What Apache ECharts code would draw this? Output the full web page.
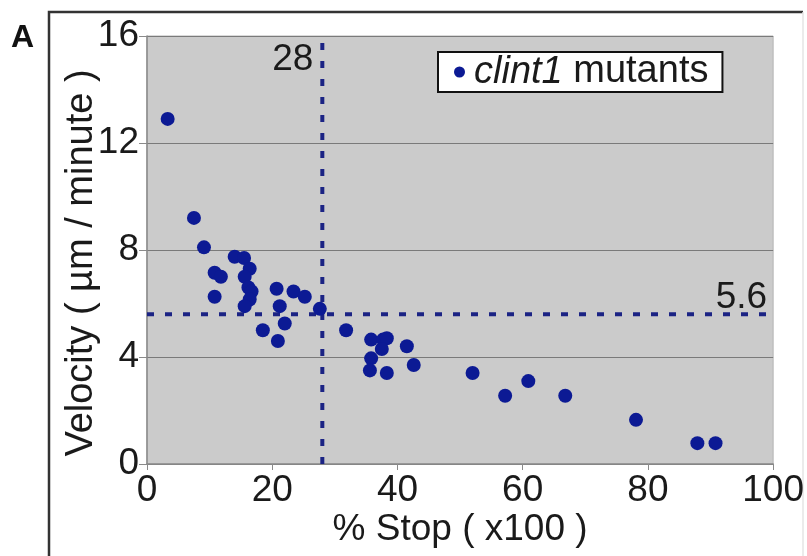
<!DOCTYPE html>
<html>
<head>
<meta charset="utf-8">
<script src="https://cdn.jsdelivr.net/npm/echarts@6/dist/echarts.min.js"></script>
<style>
html, body { margin: 0; padding: 0; background: #fff; }
#main { width: 807px; height: 556px; }
</style>
</head>
<body>
<div id="main"></div>
<script>
// % stop (x100) of each mutant
var stopPct = [3.3, 7.5, 9.1, 14.0, 15.5, 16.4, 10.8, 11.8, 15.6, 16.2,
    16.7, 10.8, 16.4, 15.6, 20.7, 23.4, 25.2, 21.2, 27.6, 22.0,
    18.5, 20.9, 31.8, 35.8, 37.7, 38.3, 37.5, 41.5, 35.8, 35.6,
    38.3, 42.6, 52.0, 57.2, 60.9, 66.8, 78.1, 87.9, 90.8];
// velocity (um / minute)
var velocity = [12.9, 9.2, 8.1, 7.75, 7.7, 7.3, 7.15, 7.0, 7.0, 6.6,
    6.45, 6.25, 6.15, 5.9, 6.55, 6.45, 6.25, 5.9, 5.8, 5.25,
    5.0, 4.6, 5.0, 4.65, 4.65, 4.7, 4.3, 4.4, 3.95, 3.5,
    3.4, 3.7, 3.4, 2.55, 3.1, 2.55, 1.65, 0.78, 0.78];
// threshold lines
var stopCut = 28;
var velCut = 5.6;
// axis ranges
var xMin = 0, xMax = 100, yMin = 0, yMax = 16;

var points = stopPct.map(function (x, i) { return [x, velocity[i]]; });

var dotColor = '#0c1a94';
var dashColor = '#1b2384';
var fontName = 'Liberation Sans, Arial, sans-serif';

var chart = echarts.init(document.getElementById('main'));
var dashStyle = { color: dashColor, width: 4, type: [7, 11] };

var option = {
    animation: false,
    grid: {
        left: 147,
        right: 33,
        top: 36,
        bottom: 92,
        show: true,
        backgroundColor: '#cbcbcb',
        borderColor: '#b4b4b4',
        borderWidth: 1
    },
    legend: {
        left: 438,
        top: 52,
        padding: [1, 14, 1, 16],
        itemWidth: 11,
        itemHeight: 11,
        backgroundColor: '#fff',
        borderColor: '#111',
        borderWidth: 2,
        borderRadius: 0,
        icon: 'circle',
        formatter: '{i|clint1} mutants',
        textStyle: {
            fontFamily: fontName,
            fontSize: 38,
            color: '#1a1a1a',
            padding: [0, 0, 0, 4],
            rich: {
                i: { fontStyle: 'italic', fontFamily: fontName, fontSize: 38, color: '#1a1a1a' }
            }
        },
        data: ['clint1 mutants']
    },
    xAxis: {
        type: 'value',
        min: xMin,
        max: xMax,
        interval: 20,
        name: '% Stop ( x100 )',
        nameLocation: 'middle',
        nameGap: 47,
        nameMoveOverlap: false,
        nameTextStyle: { fontFamily: fontName, fontSize: 37, color: '#1a1a1a' },
        splitLine: { show: false },
        axisLine: { lineStyle: { color: '#8a8a8a', width: 1.5 } },
        axisTick: { show: true, length: 6, lineStyle: { color: '#8a8a8a' } },
        axisLabel: { fontFamily: fontName, fontSize: 37, color: '#1a1a1a', margin: 8 }
    },
    yAxis: {
        type: 'value',
        min: yMin,
        max: yMax,
        interval: 4,
        name: 'Velocity ( µm / minute )',
        nameLocation: 'middle',
        nameGap: 46,
        nameMoveOverlap: false,
        nameTextStyle: {
            fontFamily: fontName, fontSize: 38, color: '#1a1a1a',
            padding: [0, 26, 0, 0]
        },
        splitLine: { show: true, lineStyle: { color: '#7a7a7a', width: 1.2 } },
        axisLine: { show: true, lineStyle: { color: '#8a8a8a', width: 1.5 } },
        axisTick: { show: true, length: 8, lineStyle: { color: '#8a8a8a' } },
        axisLabel: { fontFamily: fontName, fontSize: 37, color: '#1a1a1a', margin: 8 }
    },
    series: [{
        name: 'stopCut',
        type: 'line',
        silent: true,
        symbol: 'none',
        lineStyle: dashStyle,
        data: [[stopCut, yMin], [stopCut, yMax]],
        z: 2
    }, {
        name: 'velCut',
        type: 'line',
        silent: true,
        symbol: 'none',
        lineStyle: dashStyle,
        data: [[xMin, velCut], [xMax, velCut]],
        z: 2
    }, {
        name: 'clint1 mutants',
        type: 'scatter',
        symbolSize: 14,
        itemStyle: { color: dotColor, opacity: 1 },
        data: points,
        z: 3
    }]
};
chart.setOption(option);

// labels of the threshold lines, placed through the axes
var topLeft = chart.convertToPixel({ gridIndex: 0 }, [stopCut, yMax]);
var rightEnd = chart.convertToPixel({ gridIndex: 0 }, [xMax, velCut]);

chart.setOption({
    graphic: [
        {
            type: 'polyline',
            shape: { points: [[49, 560], [49, 12], [803, 12]] },
            style: { stroke: '#333', lineWidth: 2.5, fill: null }
        },
        {
            type: 'line',
            shape: { x1: 803, y1: 12, x2: 803, y2: 560 },
            style: { stroke: '#e4e4e4', lineWidth: 1.5 }
        },
        {
            type: 'text',
            left: 11,
            top: 22,
            style: { text: 'A', font: 'bold 32px ' + fontName, fill: '#111' }
        },
        {
            type: 'text',
            x: topLeft[0] - 9,
            y: topLeft[1] + 24,
            style: {
                text: String(stopCut), font: '37px ' + fontName, fill: '#1a1a1a',
                align: 'right', verticalAlign: 'middle'
            },
            z: 10
        },
        {
            type: 'text',
            x: rightEnd[0] - 6,
            y: rightEnd[1] - 16,
            style: {
                text: String(velCut), font: '37px ' + fontName, fill: '#1a1a1a',
                align: 'right', verticalAlign: 'middle'
            },
            z: 10
        }
    ]
});
</script>
</body>
</html>
